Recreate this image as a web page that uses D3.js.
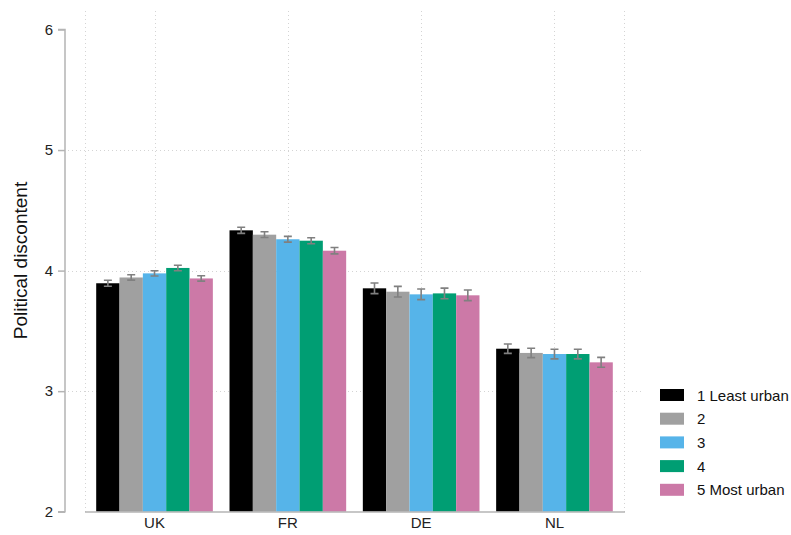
<!DOCTYPE html>
<html>
<head>
<meta charset="utf-8">
<script src="https://cdn.jsdelivr.net/npm/d3@7"></script>
<style>
  html, body { margin: 0; padding: 0; background: #fff; }
  svg { display: block; font-family: "Liberation Sans", Arial, sans-serif; }
</style>
</head>
<body>
<svg id="chart" width="791" height="535"></svg>
<script>
// Countries along the x axis
const countries = ["UK", "FR", "DE", "NL"];
// Urbanity groups (legend order)
const groups = ["1 Least urban", "2", "3", "4", "5 Most urban"];
const colors = ["#000000", "#a0a0a0", "#56b4e9", "#009e73", "#cc79a7"];

// Mean political discontent per country, one entry per urbanity group
const ukMeans = [3.895, 3.943, 3.977, 4.022, 3.935];
const frMeans = [4.334, 4.298, 4.260, 4.248, 4.165];
const deMeans = [3.853, 3.825, 3.803, 3.811, 3.795];
const nlMeans = [3.352, 3.317, 3.308, 3.308, 3.239];

// Half-width of the confidence intervals
const ukErr = [0.025, 0.022, 0.022, 0.023, 0.022];
const frErr = [0.025, 0.024, 0.024, 0.025, 0.026];
const deErr = [0.044, 0.044, 0.044, 0.044, 0.044];
const nlErr = [0.039, 0.039, 0.040, 0.040, 0.041];

const yTicks = [2, 3, 4, 5, 6];
const yTitle = "Political discontent";

const means = [ukMeans, frMeans, deMeans, nlMeans];
const errs = [ukErr, frErr, deErr, nlErr];
const rows = [];
countries.forEach((c, i) => groups.forEach((g, j) => {
  rows.push({ country: c, group: g, gi: j, mean: means[i][j], err: errs[i][j] });
}));

const svg = d3.select("#chart");
const plotL = 85, plotR = 624, plotT = 11, plotB = 512;
const FONT = "Liberation Sans, Arial, sans-serif";

const y = d3.scaleLinear().domain([2, 6]).range([511.7, 29.5]);
const x0 = d3.scaleBand().domain(countries).range([plotL, plotR])
  .paddingInner(0.125).paddingOuter(0.084);
const x1 = d3.scaleBand().domain(groups).range([0, x0.bandwidth()]);
const color = d3.scaleOrdinal().domain(groups).range(colors);

const grid = svg.append("g").attr("stroke", "#d4d4d4").attr("stroke-width", 1)
  .attr("stroke-dasharray", "1,3");
// horizontal grid lines
grid.selectAll("line.h").data(yTicks.filter(t => t > 2 && t < 6)).join("line")
  .attr("x1", 68).attr("x2", 643)
  .attr("y1", d => Math.round(y(d)) + 0.5).attr("y2", d => Math.round(y(d)) + 0.5);
// vertical grid lines: plot edges and group centres
const vx = [plotL, ...countries.map(c => x0(c) + x0.bandwidth() / 2), plotR];
grid.selectAll("line.v").data(vx).join("line")
  .attr("x1", d => Math.round(d) + 0.5).attr("x2", d => Math.round(d) + 0.5)
  .attr("y1", plotT).attr("y2", plotB);

// bars
svg.append("g").selectAll("rect").data(rows).join("rect")
  .attr("x", d => x0(d.country) + x1(d.group))
  .attr("width", x1.bandwidth())
  .attr("y", d => y(d.mean))
  .attr("height", d => y(2) - y(d.mean))
  .attr("fill", d => color(d.group));

// error bars
const eb = svg.append("g").attr("stroke", "#808080").attr("stroke-width", 1.6).attr("fill", "none");
const cx = d => x0(d.country) + x1(d.group) + x1.bandwidth() / 2;
eb.selectAll("path").data(rows).join("path")
  .attr("d", d => {
    const xc = cx(d), ya = y(d.mean + d.err), yb = y(d.mean - d.err);
    return `M${xc - 4},${ya}H${xc + 4}M${xc},${ya}V${yb}M${xc - 4},${yb}H${xc + 4}`;
  });

// y axis
const yAxis = svg.append("g").attr("transform", "translate(65,0)")
  .call(d3.axisLeft(y).tickValues(yTicks).tickSize(7).tickPadding(5).tickFormat(d3.format("d")));
yAxis.attr("font-size", 15).attr("font-family", FONT);
yAxis.select(".domain").attr("stroke", "#b4b4b4").attr("stroke-width", 1.5)
  .attr("d", `M-7,${y(6)}H0V${y(2)}H-7`);
yAxis.selectAll(".tick line").attr("stroke", "#b4b4b4").attr("stroke-width", 1.5);
yAxis.selectAll(".tick text").attr("fill", "#222");

// x axis
const xAxis = svg.append("g").attr("transform", `translate(0,${plotB})`)
  .call(d3.axisBottom(x0).tickSize(0).tickPadding(5));
xAxis.attr("font-size", 15).attr("font-family", FONT);
xAxis.select(".domain").attr("stroke", "#b4b4b4").attr("stroke-width", 1.5)
  .attr("d", `M${plotL},0H${plotR + 1}`);
xAxis.selectAll(".tick text").attr("fill", "#222");

// y title
svg.append("text")
  .attr("transform", "translate(27,260.5) rotate(-90)")
  .attr("text-anchor", "middle")
  .attr("font-size", 19).attr("fill", "#111")
  .text(yTitle);

// legend
const lg = svg.append("g").attr("transform", "translate(660,395)");
const item = lg.selectAll("g").data(groups).join("g")
  .attr("transform", (d, i) => `translate(0,${i * 23.7})`);
item.append("rect").attr("x", 0).attr("y", -6).attr("width", 24).attr("height", 12)
  .attr("fill", d => color(d));
item.append("text").attr("x", 37).attr("y", 5.5).attr("font-size", 15).attr("fill", "#111")
  .text(d => d);
</script>
</body>
</html>
